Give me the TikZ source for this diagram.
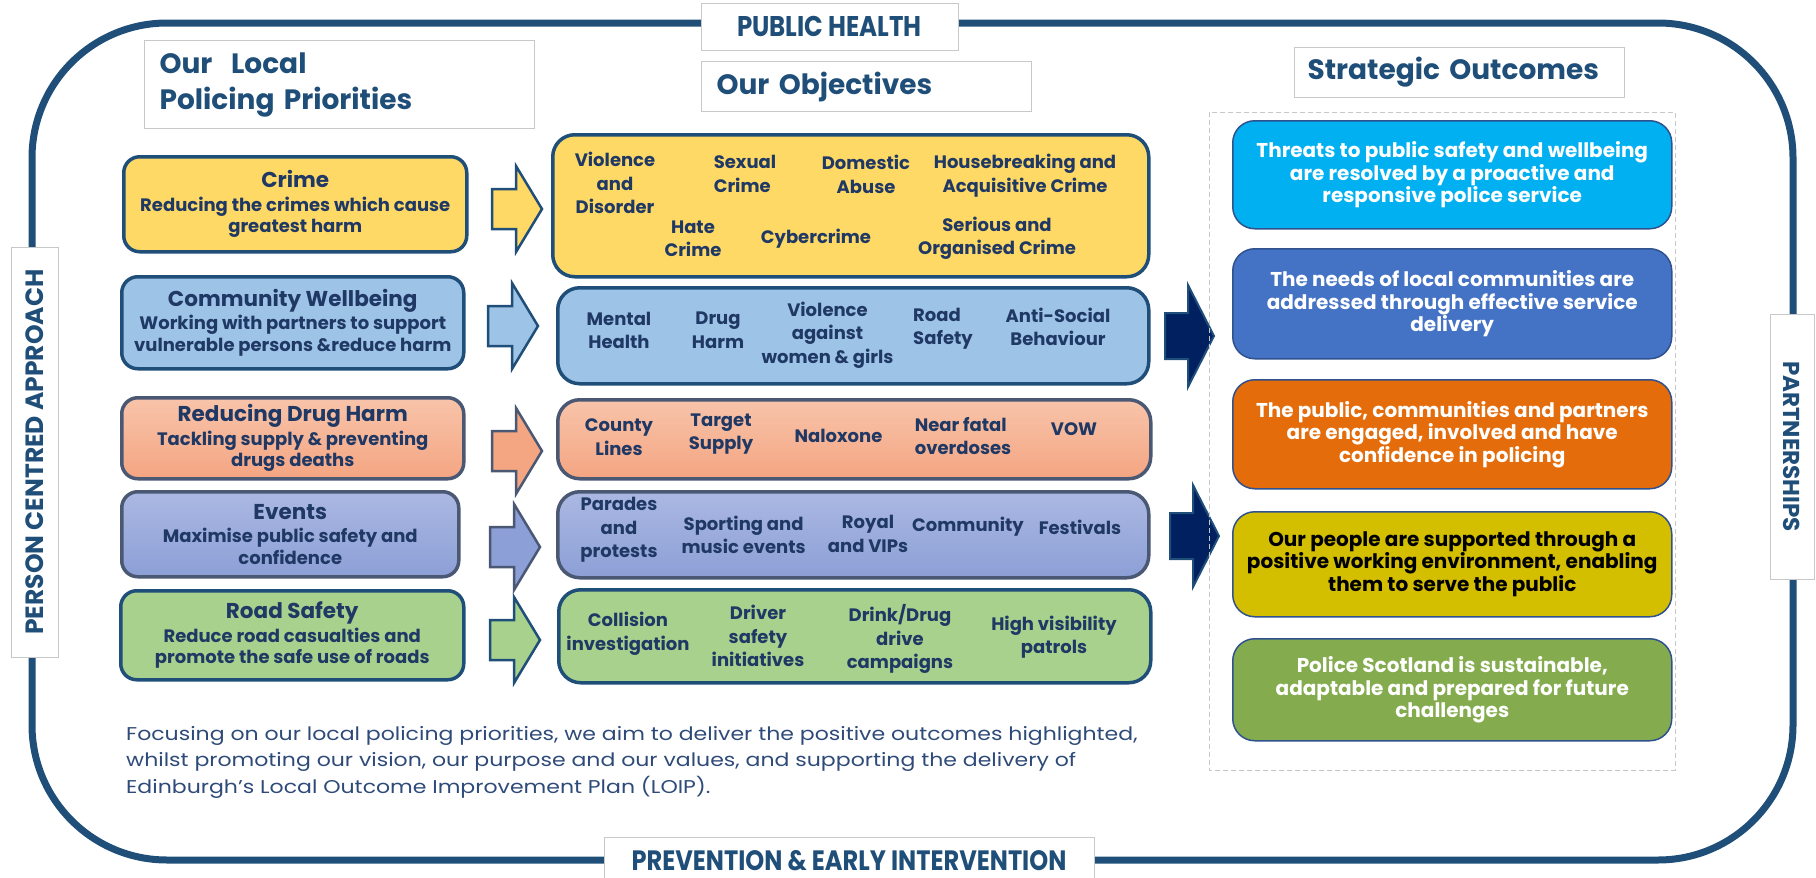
\documentclass[tikz,border=0pt]{standalone}
\usepackage{fontspec}
\setmainfont{Poppins}
\newfontfamily\narrowfont{Poppins}[FakeStretch=0.86]
\newfontfamily\widefont{Poppins}[FakeStretch=1.19]
\usetikzlibrary{positioning}

\definecolor{navy}{HTML}{1F4E79}
\definecolor{ink}{HTML}{1F3864}
\definecolor{deepnavy}{HTML}{002060}
\definecolor{slate}{HTML}{4A5874}
\definecolor{framegray}{HTML}{C8C8C8}
\definecolor{crimefill}{HTML}{FFD966}
\definecolor{commfill}{HTML}{9DC3E6}
\definecolor{drugtop}{HTML}{F8C4AA}
\definecolor{drugbot}{HTML}{F4A582}
\definecolor{eventtop}{HTML}{ABB8E2}
\definecolor{eventbot}{HTML}{8C9FD6}
\definecolor{roadfill}{HTML}{A9D18E}
\definecolor{outcyan}{HTML}{00B0F0}
\definecolor{outblue}{HTML}{4472C4}
\definecolor{outorange}{HTML}{E46C0A}
\definecolor{outyellow}{HTML}{D4BE00}
\definecolor{outgreen}{HTML}{84AC4E}
\definecolor{outedge}{HTML}{2F528F}
\definecolor{paratext}{HTML}{2E4A78}

\tikzset{
  headbox/.style={draw=framegray, line width=1.2pt, fill=white, anchor=north west,
    inner xsep=15pt, align=left, text=navy, font=\bfseries\fontsize{28}{36}\selectfont},
  tabbox/.style={draw=framegray, line width=1pt, fill=white, text=navy, inner sep=0pt},
  prio/.style={draw=navy, line width=3.5pt, rounded corners=16pt, anchor=north west,
    align=center, text=ink, font=\bfseries\fontsize{18}{21.5}\selectfont, inner sep=0pt},
  objbox/.style={draw=navy, line width=3.5pt, rounded corners=22pt, anchor=north west},
  obj/.style={align=center, text=ink, font=\bfseries\fontsize{18}{23.5}\selectfont, inner sep=0pt},
  outc/.style={draw=outedge, line width=1.5pt, rounded corners=22pt, anchor=north west,
    align=center, text=white, font=\bfseries\fontsize{20}{22.5}\selectfont, minimum width=439pt},
  smallarrow/.style={line width=2.5pt, line join=miter},
  bigarrow/.style={draw=navy, fill=deepnavy, line width=2pt, line join=miter},
}

\begin{document}
\begin{tikzpicture}[x=1pt, y=-1pt]
\useasboundingbox (0,0) rectangle (1816,878);

% outer frame
\draw[navy, line width=7pt, rounded corners=135pt] (32,23) rectangle (1793,860);

% side tabs
\node[tabbox, minimum width=257pt, minimum height=47pt, font=\narrowfont\bfseries\fontsize{28.5}{30}\selectfont] (health) at (829.5,26.5) {PUBLIC HEALTH};
\node[tabbox, minimum width=490pt, minimum height=48pt, font=\narrowfont\bfseries\fontsize{28}{30}\selectfont] (prevention) at (849,861) {PREVENTION \& EARLY INTERVENTION};
\node[tabbox, rotate=90, minimum width=410pt, minimum height=47pt, font=\bfseries\fontsize{25}{27}\selectfont] (person) at (34.5,452) {PERSON CENTRED APPROACH};
\node[tabbox, rotate=-90, minimum width=265pt, minimum height=44pt, font=\bfseries\fontsize{23}{25}\selectfont] (partners) at (1792,446.5) {PARTNERSHIPS};

% headings
\node[headbox, minimum width=390pt, minimum height=88pt, text width=360pt] (lochead) at (144,40) {Our~~Local\\Policing Priorities};
\node[headbox, minimum width=330pt, minimum height=50pt, text width=300pt] (objhead) at (701,61) {Our Objectives};
\node[headbox, minimum width=330pt, minimum height=50pt, text width=304pt, inner xsep=13pt] (outhead) at (1294,47) {Strategic Outcomes};

% priorities
\node[prio, fill=crimefill, minimum width=343pt, minimum height=95pt] (crime) at (122,155)
  {{\fontsize{21.5}{24}\selectfont Crime}\\[2pt]Reducing the crimes which cause\\greatest harm};
\node[prio, fill=commfill, minimum width=342pt, minimum height=92pt] (wellbeing) at (120,275)
  {{\fontsize{21.5}{24}\selectfont Community Wellbeing}\\[2pt]Working with partners to support\\vulnerable persons \&reduce harm};
\node[prio, draw=slate, top color=drugtop, bottom color=drugbot, minimum width=342pt, minimum height=81pt] (drugharm) at (120,396)
  {{\fontsize{21.5}{24}\selectfont Reducing Drug Harm}\\[2pt]Tackling supply \& preventing\\drugs deaths};
\node[prio, draw=slate, top color=eventtop, bottom color=eventbot, minimum width=337pt, minimum height=85pt] (events) at (120,490)
  {{\fontsize{21.5}{24}\selectfont Events}\\[2pt]Maximise public safety and\\confidence};
\node[prio, fill=roadfill, minimum width=343pt, minimum height=89pt] (roadsafety) at (119,589)
  {{\fontsize{21.5}{24}\selectfont Road Safety}\\[2pt]Reduce road casualties and\\promote the safe use of roads};

\foreach \ax/\ay/\fillc/\edge in {492/209/crimefill/navy, 488/326/commfill/navy, 492/451/drugbot/slate, 490/547/eventbot/slate, 490/640/roadfill/navy}
  \draw[smallarrow, draw=\edge, fill=\fillc] (\ax,\ay-20) -- (\ax+24,\ay-20) -- (\ax+24,\ay-43) -- (\ax+50,\ay)
    -- (\ax+24,\ay+43) -- (\ax+24,\ay+20) -- (\ax,\ay+20) -- cycle;

% objectives
\node[objbox, fill=crimefill, minimum width=596pt, minimum height=142pt] (objcrime) at (551,133) {};
\node[objbox, fill=commfill, minimum width=591pt, minimum height=96pt] (objwell) at (556,286) {};
\node[objbox, draw=slate, top color=drugtop, bottom color=drugbot, minimum width=593pt, minimum height=79pt] (objdrug) at (556,398) {};
\node[objbox, draw=slate, top color=eventtop, bottom color=eventbot, minimum width=591pt, minimum height=86pt] (objevents) at (556,490) {};
\node[objbox, fill=roadfill, minimum width=592pt, minimum height=93pt] (objroad) at (557,588) {};

\node[obj] (violence) at (615,183) {Violence\\and\\Disorder};
\node[obj, align=left] (sexual) at (745,174) {Sexual\\Crime};
\node[obj] (domestic) at (866,174.5) {Domestic\\Abuse};
\node[obj] (housebreak) at (1025,175.5) {Housebreaking and\\Acquisitive Crime};
\node[obj] (hate) at (693,239) {Hate\\Crime};
\node[obj] (cyber) at (816,239) {Cybercrime};
\node[obj] (serious) at (997,238.5) {Serious and\\Organised Crime};

\node[obj] (mental) at (619,330.5) {Mental\\Health};
\node[obj] (drugobj) at (718,330.5) {Drug\\Harm};
\node[obj] (vawg) at (827.5,335) {Violence\\against\\women \& girls};
\node[obj, align=left] (roadobj) at (943,328.7) {Road\\Safety};
\node[obj] (antisocial) at (1058,327) {Anti-Social\\Behaviour};

\node[obj] (county) at (619,437) {County\\Lines};
\node[obj] (target) at (721,434) {Target\\Supply};
\node[obj] (naloxone) at (838.5,436) {Naloxone};
\node[obj, align=left] (nearfatal) at (963,436) {Near fatal\\overdoses};
\node[obj] (vow) at (1074,429) {VOW};

\node[obj] (parades) at (619,530) {Parades\\and\\protests};
\node[obj] (sporting) at (743.6,535) {Sporting and\\music events};
\node[obj] (royal) at (868,534) {Royal\\and VIPs};
\node[obj] (community) at (968,527) {Community};
\node[obj] (festivals) at (1080,527) {Festivals};

\node[obj] (collision) at (628,634) {Collision\\investigation};
\node[obj] (driver) at (758,636) {Driver\\safety\\initiatives};
\node[obj] (drinkdrug) at (900,639) {Drink/Drug\\drive\\campaigns};
\node[obj] (highvis) at (1054,637) {High visibility\\patrols};

\foreach \bx/\by in {1165/336, 1170/536}
  \draw[bigarrow] (\bx,\by-23) -- (\bx+23,\by-23) -- (\bx+23,\by-51) -- (\bx+49,\by)
    -- (\bx+23,\by+51) -- (\bx+23,\by+23) -- (\bx,\by+23) -- cycle;

% strategic outcomes
\draw[framegray, line width=1pt, dash pattern=on 5pt off 3pt] (1209,112) rectangle (1675,770);
\node[outc, fill=outcyan, minimum height=108pt] (threats) at (1232,120)
  {Threats to public safety and wellbeing\\are resolved by a proactive and\\responsive police service};
\node[outc, fill=outblue, minimum height=110pt] (needs) at (1232,248)
  {The needs of local communities are\\addressed through effective service\\delivery};
\node[outc, fill=outorange, minimum height=109pt] (engaged) at (1232,379)
  {The public, communities and partners\\are engaged, involved and have\\confidence in policing};
\node[outc, fill=outyellow, text=black, minimum height=105pt] (people) at (1232,511)
  {Our people are supported through a\\positive working environment, enabling\\them to serve the public};
\node[outc, fill=outgreen, minimum height=102pt] (sustain) at (1232,638)
  {Police Scotland is sustainable,\\adaptable and prepared for future\\challenges};

% closing text
\node[anchor=north west, align=left, text=paratext, inner sep=0pt, font=\widefont\fontsize{18.5}{26.5}\selectfont] (summary) at (126,726)
  {Focusing on our local policing priorities, we aim to deliver the positive outcomes highlighted,\\
   whilst promoting our vision, our purpose and our values, and supporting the delivery of\\
   Edinburgh’s Local Outcome Improvement Plan (LOIP).};

\end{tikzpicture}
\end{document}
